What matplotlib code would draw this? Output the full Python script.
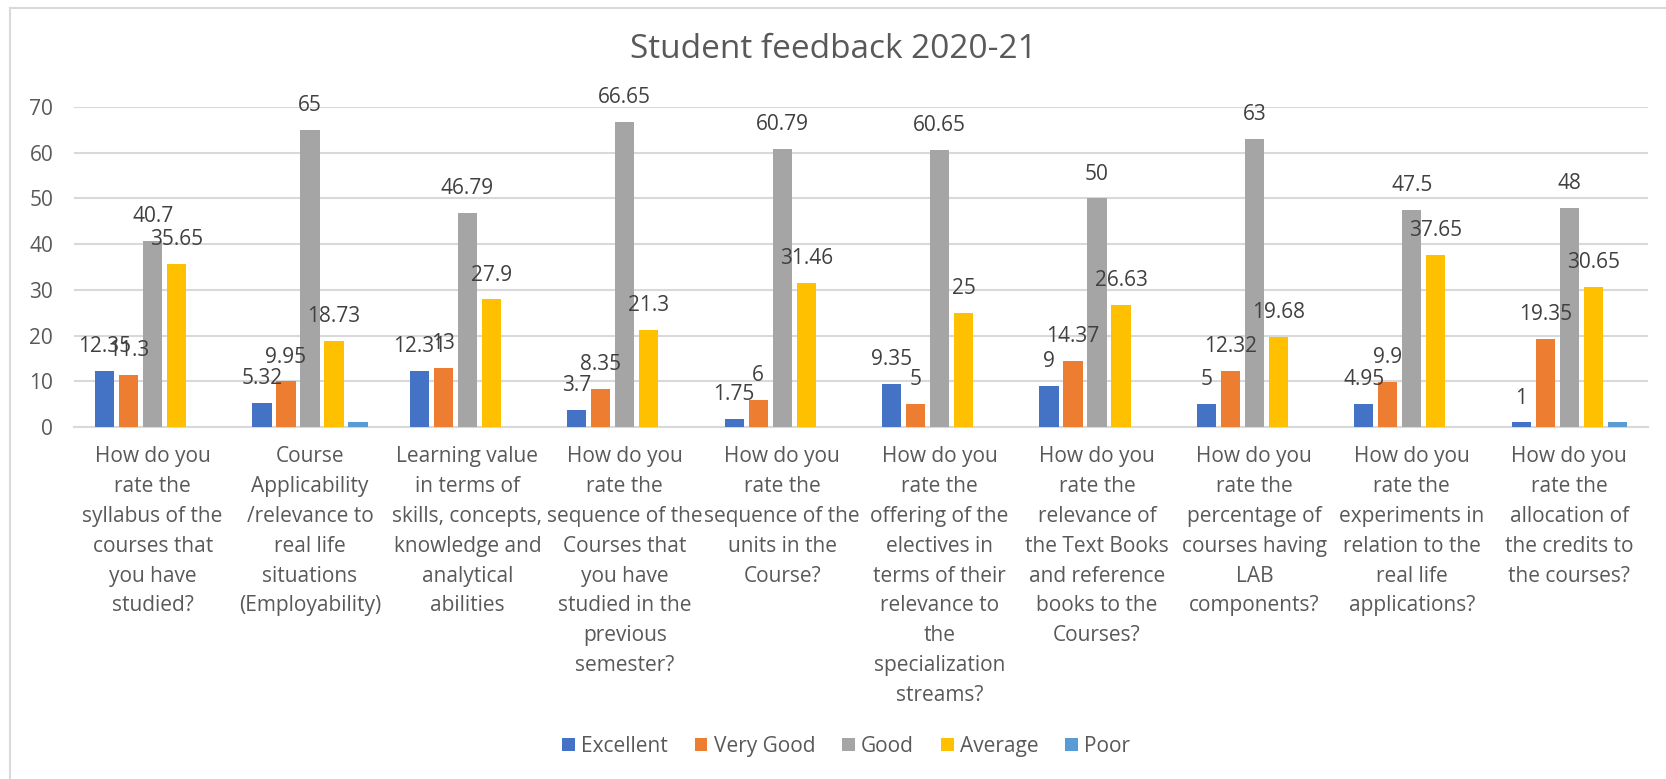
import numpy as np
import matplotlib
matplotlib.use("Agg")
import matplotlib.pyplot as plt
from matplotlib.lines import Line2D

# chart data
categories = [
    "How do you\nrate the\nsyllabus of the\ncourses that\nyou have\nstudied?",
    "Course\nApplicability\n/relevance to\nreal life\nsituations\n(Employability)",
    "Learning value\nin terms of\nskills, concepts,\nknowledge and\nanalytical\nabilities",
    "How do you\nrate the\nsequence of the\nCourses that\nyou have\nstudied in the\nprevious\nsemester?",
    "How do you\nrate the\nsequence of the\nunits in the\nCourse?",
    "How do you\nrate the\noffering of the\nelectives in\nterms of their\nrelevance to\nthe\nspecialization\nstreams?",
    "How do you\nrate the\nrelevance of\nthe Text Books\nand reference\nbooks to the\nCourses?",
    "How do you\nrate the\npercentage of\ncourses having\nLAB\ncomponents?",
    "How do you\nrate the\nexperiments in\nrelation to the\nreal life\napplications?",
    "How do you\nrate the\nallocation of\nthe credits to\nthe courses?",
]
series_names = ["Excellent", "Very Good", "Good", "Average", "Poor"]
excellent = [12.35, 5.32, 12.31, 3.7, 1.75, 9.35, 9, 5, 4.95, 1]
very_good = [11.3, 9.95, 13, 8.35, 6, 5, 14.37, 12.32, 9.9, 19.35]
good = [40.7, 65, 46.79, 66.65, 60.79, 60.65, 50, 63, 47.5, 48]
average = [35.65, 18.73, 27.9, 21.3, 31.46, 25, 26.63, 19.68, 37.65, 30.65]
poor = [0, 1, 0, 0, 0, 0, 0, 0, 0, 1]
y_ticks = [0, 10, 20, 30, 40, 50, 60, 70]

colors = ["#4472C4", "#ED7D31", "#A5A5A5", "#FFC000", "#5B9BD5"]
grid_col = "#D9D9D9"
text_col = "#595959"

plt.rcParams['font.family'] = ['Open Sans', 'DejaVu Sans']

fig = plt.figure(figsize=(16.66, 7.79), dpi=100)
ax = fig.add_axes([0.0444, 0.4519, 0.9447, 0.4107])

all_series = [excellent, very_good, good, average, poor]
x = np.arange(len(categories))
step = 0.1525
width = 0.122

for i, (name, vals) in enumerate(zip(series_names, all_series)):
    pos = x + (i - 2) * step
    bars = ax.bar(pos, vals, width, color=colors[i], label=name, zorder=3)
    if name == "Poor":
        continue  # no labels on the poor series in the original
    for b, v in zip(bars, vals):
        ax.annotate(f"{v:g}", (b.get_x() + b.get_width() / 2, v),
                    xytext=(0, 10), textcoords="offset points",
                    ha="center", va="bottom", fontsize=15, color="#404040",
                    zorder=6)

ax.set_xlim(-0.5, len(categories) - 0.5)
ax.set_ylim(0, 70)
ax.set_yticks(y_ticks)
ax.yaxis.grid(True, color=grid_col, linewidth=1.5, zorder=0)
ax.set_xticks(x)
ax.set_xticklabels(categories, fontsize=15, color=text_col, linespacing=1.55)
ax.tick_params(axis="y", length=0, pad=15, labelsize=15, labelcolor=text_col)
ax.tick_params(axis="x", length=0, pad=14)
for s in ["top", "right", "left"]:
    ax.spines[s].set_visible(False)
ax.spines["bottom"].set_color(grid_col)
ax.spines["bottom"].set_linewidth(1.5)

fig.text(0.5, 0.936, "Student feedback 2020-21", ha="center", va="center",
         fontsize=24, color=text_col)

fig.legend(loc="center", bbox_to_anchor=(0.508, 0.042), ncol=5, frameon=False,
           fontsize=15, labelcolor=text_col, handlelength=0.6, handleheight=0.6,
           handletextpad=0.3, columnspacing=1.3)

# chart border (left and top edges visible in the screenshot)
fig.add_artist(Line2D([10 / 1666, 1], [1 - 8 / 779, 1 - 8 / 779], color=grid_col, lw=1.5))
fig.add_artist(Line2D([10 / 1666, 10 / 1666], [0, 1 - 8 / 779], color=grid_col, lw=1.5))

fig.savefig("out.png", dpi=100, facecolor="white")
